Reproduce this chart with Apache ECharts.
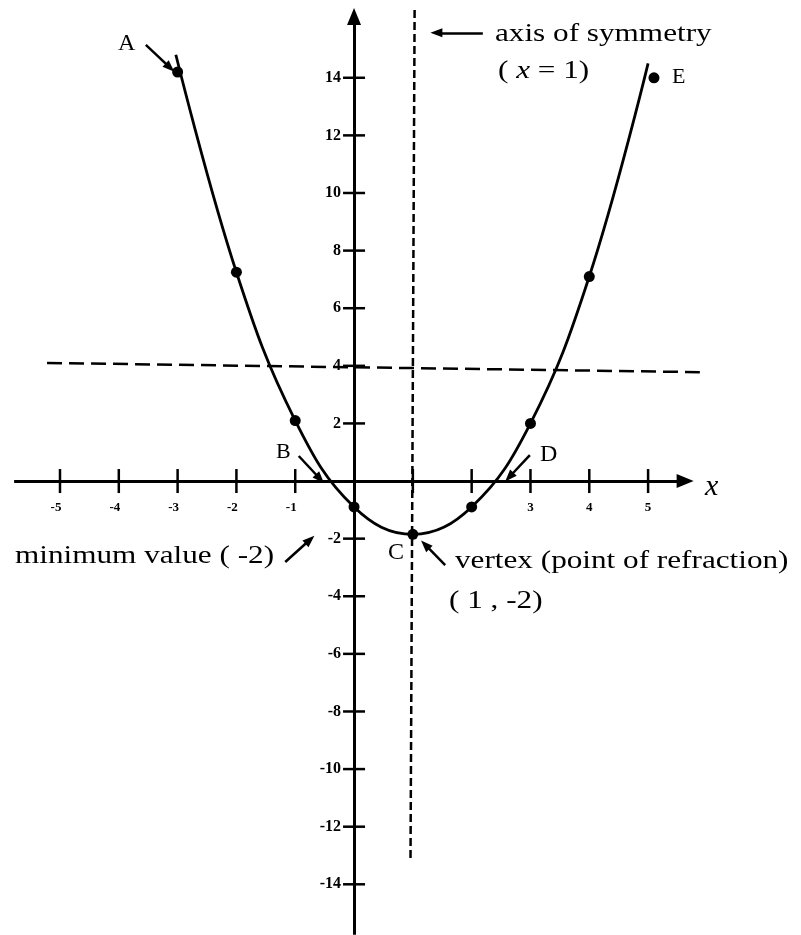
<!DOCTYPE html>
<html>
<head>
<meta charset="utf-8">
<title>parabola</title>
<script src="https://cdn.jsdelivr.net/npm/echarts@6/dist/echarts.min.js"></script>
<style>
  html, body { margin: 0; padding: 0; background: #fff; }
  #chart { width: 801px; height: 935px; }
</style>
</head>
<body>
<div id="chart"></div>
<script>
// tick values on the two axes
const xTicks = [-5, -4, -3, -2, -1, 1, 2, 3, 4, 5];
const xTickLabels = ['-5', '-4', '-3', '-2', '-1', '', '2', '3', '4', '5'];
const yTicks = [14, 12, 10, 8, 6, 4, 2, -2, -4, -6, -8, -10, -12, -14];
const yTickLabels = ['14', '12', '10', '8', '6', '4', '2', '-2', '-4', '-6', '-8', '-10', '-12', '-14'];

// plotted dots
const pointX = [-3, -2, -1, 0, 1, 2, 3, 4, 5.1];
const pointY = [14.2, 7.25, 2.1, -0.9, -1.85, -0.9, 2, 7.1, 14];
// the hand drawn curve, runs a bit past the end dots
const curveX = [-3.03, -2, -1, 0, 1, 2, 3, 4, 5.0];
const curveY = [14.8, 7.25, 2.1, -0.9, -1.85, -0.9, 2, 7.1, 14.5];

// dashed guides: axis of symmetry and the y = 4 line
const symmetryLine = [[1.03, 16.35], [0.96, -13.2]];
const levelLine = [[-5.22, 4.1], [5.88, 3.78]];

// axis lines (end = arrow head)
const xAxisLine = [[-5.78, 0], [5.63, 0]];
const yAxisLine = [[0, -15.75], [0, 16.13]];

// annotation arrows [from, to]
const noteArrows = [
  [[-3.54, 15.14], [-3.13, 14.35]],   // A
  [[2.19, 15.56], [1.40, 15.56]],     // axis of symmetry
  [[-0.94, 0.87], [-0.58, 0.08]],     // B
  [[2.99, 0.90], [2.64, 0.14]],       // D
  [[-1.17, -2.81], [-0.75, -2.04]],   // minimum value
  [[1.55, -2.92], [1.21, -2.21]]      // vertex
];

const chart = echarts.init(document.getElementById('chart'));

const serif = 'Liberation Serif';
const black = '#000';

// text written on the picture, pixel placed
const notes = [
  { text: 'A', x: 118, y: 44, size: 24 },
  { text: 'E', x: 672, y: 77, size: 22 },
  { text: 'B', x: 276, y: 452, size: 22 },
  { text: 'C', x: 388, y: 553, size: 24 },
  { text: 'D', x: 540, y: 455, size: 24 },
  { text: 'axis of symmetry', x: 495, y: 34, size: 26, sx: 1.2 },
  { text: '( {i|x} = 1)', x: 498, y: 71, size: 26, sx: 1.2 },
  { text: 'minimum value ( -2)', x: 15, y: 556, size: 26, sx: 1.2 },
  { text: 'vertex (point of refraction)', x: 455, y: 561, size: 26, sx: 1.2 },
  { text: '( 1 , -2)', x: 449, y: 601, size: 26, sx: 1.2 },
  { text: '{i|x}', x: 705, y: 487, size: 30 }
];

const option = {
  animation: false,
  backgroundColor: '#fff',
  grid: { left: 0, right: 0, top: 0, bottom: 0 },
  xAxis: { type: 'value', min: -6.02, max: 7.6, show: false },
  yAxis: { type: 'value', min: -15.76, max: 16.7, show: false },
  graphic: notes.map(n => ({
    type: 'text',
    x: n.x,
    y: n.y,
    scaleX: n.sx || 1,
    silent: true,
    style: {
      text: n.text,
      fontFamily: serif,
      fontSize: n.size,
      fill: black,
      align: 'left',
      verticalAlign: 'middle',
      rich: {
        i: { fontFamily: serif, fontSize: n.size, fontStyle: 'italic', fill: black }
      }
    }
  })),
  series: [
    {
      // axes with arrow heads
      type: 'line',
      data: [],
      silent: true,
      markLine: {
        silent: true,
        animation: false,
        symbol: ['none', 'triangle'],
        symbolSize: [14, 17],
        label: { show: false },
        lineStyle: { color: black, width: 3, type: 'solid' },
        emphasis: { disabled: true },
        data: [
          [{ coord: xAxisLine[0] }, { coord: xAxisLine[1] }],
          [{ coord: yAxisLine[0] }, { coord: yAxisLine[1] }]
        ]
      }
    },
    {
      // small pointer arrows
      type: 'line',
      data: [],
      silent: true,
      markLine: {
        silent: true,
        animation: false,
        symbol: ['none', 'triangle'],
        symbolSize: [9, 12],
        label: { show: false },
        lineStyle: { color: black, width: 2.5, type: 'solid' },
        emphasis: { disabled: true },
        data: noteArrows.map(a => [{ coord: a[0] }, { coord: a[1] }])
      }
    },
    {
      type: 'line',
      data: symmetryLine,
      symbol: 'none',
      silent: true,
      lineStyle: { color: black, width: 2.5, type: [8, 4] }
    },
    {
      type: 'line',
      data: levelLine,
      symbol: 'none',
      silent: true,
      lineStyle: { color: black, width: 2.5, type: [15, 7] }
    },
    {
      // x ticks crossing the axis
      type: 'scatter',
      symbol: 'rect',
      symbolSize: [2.5, 24],
      silent: true,
      itemStyle: { color: black, opacity: 1 },
      data: xTicks.map((v, i) => ({
        value: [v, 0],
        label: { formatter: xTickLabels[i], offset: [v < 0 ? -4 : 0, 0] }
      })),
      label: {
        show: true,
        position: 'bottom',
        distance: 8,
        fontFamily: serif,
        fontWeight: 'bold',
        fontSize: 13,
        color: black
      }
    },
    {
      // y ticks crossing the axis
      type: 'scatter',
      symbol: 'rect',
      symbolSize: [22, 2.5],
      silent: true,
      itemStyle: { color: black, opacity: 1 },
      data: yTicks.map((v, i) => ({
        value: [0, v],
        label: { formatter: yTickLabels[i] }
      })),
      label: {
        show: true,
        position: 'left',
        distance: 2,
        fontFamily: serif,
        fontWeight: 'bold',
        fontSize: 16,
        color: black
      }
    },
    {
      type: 'line',
      data: curveX.map((x, i) => [x, curveY[i]]),
      smooth: 0.4,
      symbol: 'none',
      silent: true,
      lineStyle: { color: black, width: 2.8 },
      z: 4
    },
    {
      type: 'scatter',
      data: pointX.map((x, i) => [x, pointY[i]]),
      symbol: 'circle',
      symbolSize: 11,
      silent: true,
      itemStyle: { color: black, opacity: 1 },
      z: 5
    }
  ]
};

chart.setOption(option);
</script>
</body>
</html>
